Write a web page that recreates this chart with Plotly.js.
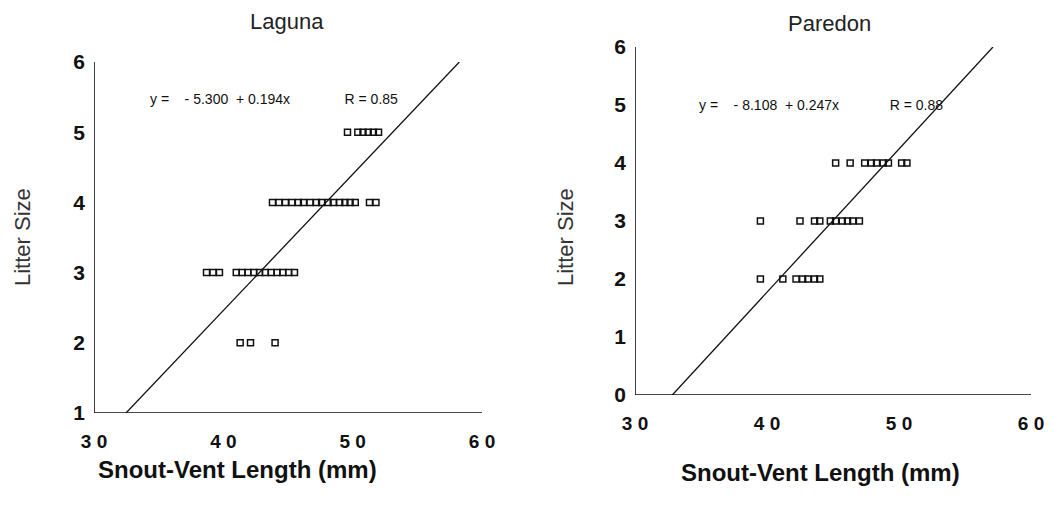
<!DOCTYPE html>
<html>
<head>
<meta charset="utf-8">
<script src="https://cdn.plot.ly/plotly-3.0.1.min.js"></script>
<style>
html,body{margin:0;padding:0;background:#fff;}
#chart{width:1055px;height:508px;}
</style>
</head>
<body>
<div id="chart"></div>
<script>
// Laguna data (snout-vent length mm, litter size)
const lagunaSVL = [49.6, 50.4, 50.8, 51.2, 51.6, 52.0,
  43.8, 44.3, 44.8, 45.3, 45.8, 46.2, 46.7, 47.2, 47.6, 48.1, 48.5, 49.0, 49.4, 49.8, 50.2, 51.3, 51.8,
  38.7, 39.2, 39.7, 41.0, 41.45, 41.9, 42.35, 42.8, 43.25, 43.7, 44.15, 44.6, 45.05, 45.5,
  41.3, 42.1, 44.0];
const lagunaLitter = [5, 5, 5, 5, 5, 5,
  4, 4, 4, 4, 4, 4, 4, 4, 4, 4, 4, 4, 4, 4, 4, 4, 4,
  3, 3, 3, 3, 3, 3, 3, 3, 3, 3, 3, 3, 3, 3,
  2, 2, 2];
const lagunaFit = {intercept: -5.300, slope: 0.194, r: 0.85};

// Paredon data
const paredonSVL = [45.2, 46.3, 47.4, 47.9, 48.3, 48.8, 49.2, 50.2, 50.6,
  39.5, 42.5, 43.6, 44.0, 44.8, 45.2, 45.7, 46.1, 46.5, 47.0,
  39.5, 41.2, 42.2, 42.7, 43.1, 43.6, 44.0];
const paredonLitter = [4, 4, 4, 4, 4, 4, 4, 4, 4,
  3, 3, 3, 3, 3, 3, 3, 3, 3, 3,
  2, 2, 2, 2, 2, 2, 2];
const paredonFit = {intercept: -8.108, slope: 0.247, r: 0.88};

const xRange = [30, 60];
const lagunaYRange = [1, 6];
const paredonYRange = [0, 6];
const xTickVals = [30, 40, 50, 60];
const xTickText = ["3 0", "4 0", "5 0", "6 0"];
const xMinorVals = [35, 45, 55];
const lagunaYTicks = [1, 2, 3, 4, 5, 6];
const lagunaYMinor = [1.5, 2.5, 3.5, 4.5, 5.5];
const paredonYTicks = [0, 1, 2, 3, 4, 5, 6];
const paredonYMinor = [0.5, 1.5, 2.5, 3.5, 4.5, 5.5];

const W = 1055, H = 508;
const lagX = [94/W, 482/W], lagY = [(H-413)/H, (H-62)/H];
const parX = [635/W, 1031/W], parY = [(H-395)/H, (H-47)/H];

function fitLine(fit, yMin, yMax) {
  const x0 = (yMin - fit.intercept) / fit.slope;
  const x1 = (yMax - fit.intercept) / fit.slope;
  return {x: [x0, x1], y: [fit.intercept + fit.slope * x0, fit.intercept + fit.slope * x1]};
}
const lagLine = fitLine(lagunaFit, lagunaYRange[0], lagunaYRange[1]);
const parLine = fitLine(paredonFit, paredonYRange[0], paredonYRange[1]);

function eqText(fit, gap) {
  const sp = n => '&nbsp;'.repeat(n);
  return 'y =' + sp(4) + '-' + sp(1) + Math.abs(fit.intercept).toFixed(3) + sp(2) + '+ ' + fit.slope.toFixed(3) + 'x' + sp(gap) + 'R = ' + fit.r.toFixed(2);
}

// axis frame (left + bottom) and outward tick marks, expressed in axis units
function axisDecor(xr, yr, xdom, ydom, xt, xm, yt, ym) {
  const uxPerPx = (xr[1] - xr[0]) / ((xdom[1] - xdom[0]) * W);
  const uyPerPx = (yr[1] - yr[0]) / ((ydom[1] - ydom[0]) * H);
  const fx = [xr[0], xr[0], xr[1]], fy = [yr[1], yr[0], yr[0]];
  const tx = [], ty = [];
  function addX(vals, len) { vals.forEach(v => { tx.push(v, v, null); ty.push(yr[0], yr[0] - len * uyPerPx, null); }); }
  function addY(vals, len) { vals.forEach(v => { tx.push(xr[0], xr[0] - len * uxPerPx, null); ty.push(v, v, null); }); }
  addX(xt, 5); addX(xm, 3); addY(yt, 5); addY(ym, 3);
  return {fx, fy, tx, ty};
}
const lagDecor = axisDecor(xRange, lagunaYRange, lagX, lagY, xTickVals, xMinorVals, lagunaYTicks, lagunaYMinor);
const parDecor = axisDecor(xRange, paredonYRange, parX, parY, xTickVals, xMinorVals, paredonYTicks, paredonYMinor);

const marker = {symbol: 'square-open', size: 6, color: '#111', line: {width: 1.5, color: '#111'}};
const lineStyle = {color: '#111', width: 1.3};
const axisStyle = {color: '#111', width: 1.6};
const tickStyle = {color: '#111', width: 1.3};

function decorTraces(d, xa, ya) {
  return [
    {x: d.fx, y: d.fy, mode: 'lines', type: 'scatter', line: axisStyle, cliponaxis: false, hoverinfo: 'skip', xaxis: xa, yaxis: ya},
    {x: d.tx, y: d.ty, mode: 'lines', type: 'scatter', line: tickStyle, cliponaxis: false, connectgaps: false, hoverinfo: 'skip', xaxis: xa, yaxis: ya}
  ];
}

const traces = [
  {x: lagunaSVL, y: lagunaLitter, mode: 'markers', type: 'scatter', marker: marker, xaxis: 'x', yaxis: 'y'},
  {x: lagLine.x, y: lagLine.y, mode: 'lines', type: 'scatter', line: lineStyle, xaxis: 'x', yaxis: 'y'},
  {x: paredonSVL, y: paredonLitter, mode: 'markers', type: 'scatter', marker: marker, xaxis: 'x2', yaxis: 'y2'},
  {x: parLine.x, y: parLine.y, mode: 'lines', type: 'scatter', line: lineStyle, xaxis: 'x2', yaxis: 'y2'}
].concat(decorTraces(lagDecor, 'x', 'y'), decorTraces(parDecor, 'x2', 'y2'));

const font = 'Liberation Sans, Arial, sans-serif';
function xAxis(domain, anchor) {
  return {domain: domain, anchor: anchor, range: xRange, showgrid: false, zeroline: false,
    showline: false, ticks: '', tickmode: 'array', tickvals: xTickVals, ticktext: xTickText, ticklabelstandoff: 15,
    tickfont: {family: font, size: 19, color: '#111', weight: 'bold'}};
}
function yAxis(domain, anchor, range, ticks) {
  return {domain: domain, anchor: anchor, range: range, showgrid: false, zeroline: false,
    showline: false, ticks: '', tickmode: 'array', tickvals: ticks, ticklabelstandoff: 8,
    tickfont: {family: font, size: 21, color: '#111', weight: 'bold'}};
}

const layout = {
  width: W, height: H,
  margin: {l: 0, r: 0, t: 0, b: 0},
  paper_bgcolor: '#fff', plot_bgcolor: '#fff',
  showlegend: false,
  xaxis: xAxis(lagX, 'y'),
  yaxis: yAxis(lagY, 'x', lagunaYRange, lagunaYTicks),
  xaxis2: xAxis(parX, 'y2'),
  yaxis2: yAxis(parY, 'x2', paredonYRange, paredonYTicks),
  annotations: [
    {text: 'Laguna', xref: 'paper', yref: 'paper', x: 287/W, y: 1 - 21/H, xanchor: 'center', yanchor: 'middle', showarrow: false,
      font: {family: font, size: 22, color: '#222'}},
    {text: 'Paredon', xref: 'paper', yref: 'paper', x: 829/W, y: 1 - 23/H, xanchor: 'center', yanchor: 'middle', showarrow: false,
      font: {family: font, size: 22, color: '#222'}},
    {text: 'Litter Size', xref: 'paper', yref: 'paper', x: 22/W, y: 1 - 237/H, textangle: -90, xanchor: 'center', yanchor: 'middle', showarrow: false,
      font: {family: font, size: 22, color: '#333'}},
    {text: 'Litter Size', xref: 'paper', yref: 'paper', x: 565/W, y: 1 - 237/H, textangle: -90, xanchor: 'center', yanchor: 'middle', showarrow: false,
      font: {family: font, size: 22, color: '#333'}},
    {text: 'Snout-Vent Length (mm)', xref: 'paper', yref: 'paper', x: 237/W, y: 1 - 469/H, xanchor: 'center', yanchor: 'middle', showarrow: false,
      font: {family: font, size: 24, color: '#111', weight: 'bold'}},
    {text: 'Snout-Vent Length (mm)', xref: 'paper', yref: 'paper', x: 820/W, y: 1 - 472/H, xanchor: 'center', yanchor: 'middle', showarrow: false,
      font: {family: font, size: 24, color: '#111', weight: 'bold'}},
    {text: eqText(lagunaFit, 14), xref: 'paper', yref: 'paper', x: 148/W, y: 1 - 99/H, xanchor: 'left', yanchor: 'middle', showarrow: false,
      font: {family: font, size: 14, color: '#111'}},
    {text: eqText(paredonFit, 13), xref: 'paper', yref: 'paper', x: 697/W, y: 1 - 105/H, xanchor: 'left', yanchor: 'middle', showarrow: false,
      font: {family: font, size: 14, color: '#111'}}
  ]
};

Plotly.newPlot('chart', traces, layout, {displayModeBar: false});
</script>
</body>
</html>
